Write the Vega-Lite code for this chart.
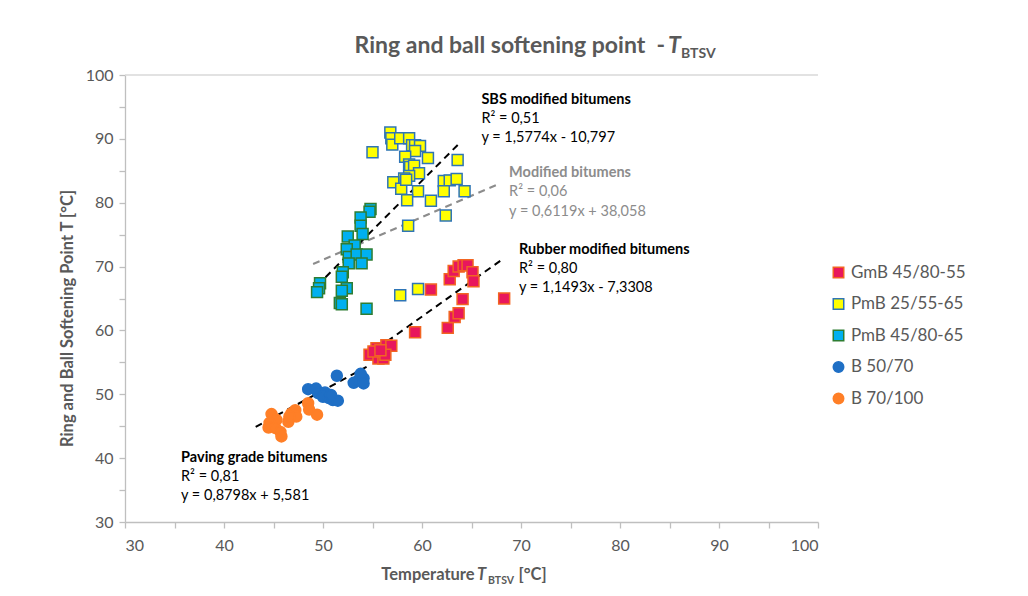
{
  "$schema": "https://vega.github.io/schema/vega-lite/v6.json",
  "width": 693,
  "height": 447,
  "autosize": "none",
  "padding": {"left": 125, "top": 75, "right": 210, "bottom": 74},
  "background": "white",
  "config": {
    "font": "Lato",
    "view": {"stroke": null},
    "axis": {
      "grid": false,
      "domainColor": "#BFBFBF",
      "tickColor": "#BFBFBF",
      "domainWidth": 1.3,
      "tickWidth": 1.3,
      "tickSize": 6,
      "labelColor": "#595959",
      "labelFont": "Lato",
      "labelFontSize": 16,
      "titleColor": "#595959",
      "titleFont": "Lato",
      "titleFontSize": 16.5,
      "titleFontWeight": "bold"
    },
    "legend": {
      "labelFont": "Lato",
      "labelFontSize": 17,
      "labelColor": "#595959",
      "symbolSize": 110,
      "symbolStrokeWidth": 1.5,
      "rowPadding": 13.5
    }
  },
  "datasets": {
    "points": [
      {"series": "PmB 25/55-65", "x": 56.8, "y": 91.0},
      {"series": "PmB 25/55-65", "x": 56.9, "y": 90.1},
      {"series": "PmB 25/55-65", "x": 57.0, "y": 89.1},
      {"series": "PmB 25/55-65", "x": 57.8, "y": 90.1},
      {"series": "PmB 25/55-65", "x": 58.7, "y": 90.1},
      {"series": "PmB 25/55-65", "x": 59.0, "y": 89.0},
      {"series": "PmB 25/55-65", "x": 59.3, "y": 89.0},
      {"series": "PmB 25/55-65", "x": 59.8, "y": 88.9},
      {"series": "PmB 25/55-65", "x": 59.3, "y": 88.1},
      {"series": "PmB 25/55-65", "x": 55.0, "y": 87.9},
      {"series": "PmB 25/55-65", "x": 58.3, "y": 87.2},
      {"series": "PmB 25/55-65", "x": 60.6, "y": 87.0},
      {"series": "PmB 25/55-65", "x": 63.6, "y": 86.7},
      {"series": "PmB 25/55-65", "x": 58.7, "y": 86.0},
      {"series": "PmB 25/55-65", "x": 58.8, "y": 85.6},
      {"series": "PmB 25/55-65", "x": 59.2, "y": 85.8},
      {"series": "PmB 25/55-65", "x": 59.7, "y": 84.6},
      {"series": "PmB 25/55-65", "x": 58.7, "y": 84.2},
      {"series": "PmB 25/55-65", "x": 58.2, "y": 83.8},
      {"series": "PmB 25/55-65", "x": 57.1, "y": 83.2},
      {"series": "PmB 25/55-65", "x": 57.9, "y": 82.2},
      {"series": "PmB 25/55-65", "x": 58.4, "y": 83.6},
      {"series": "PmB 25/55-65", "x": 59.6, "y": 81.8},
      {"series": "PmB 25/55-65", "x": 62.2, "y": 83.4},
      {"series": "PmB 25/55-65", "x": 62.8, "y": 83.5},
      {"series": "PmB 25/55-65", "x": 63.5, "y": 83.7},
      {"series": "PmB 25/55-65", "x": 62.2, "y": 81.8},
      {"series": "PmB 25/55-65", "x": 64.3, "y": 81.8},
      {"series": "PmB 25/55-65", "x": 60.9, "y": 80.3},
      {"series": "PmB 25/55-65", "x": 58.5, "y": 80.4},
      {"series": "PmB 25/55-65", "x": 62.4, "y": 78.0},
      {"series": "PmB 25/55-65", "x": 58.6, "y": 76.4},
      {"series": "PmB 25/55-65", "x": 57.8, "y": 65.5},
      {"series": "PmB 25/55-65", "x": 59.6, "y": 66.5},
      {"series": "PmB 45/80-65", "x": 54.8, "y": 79.0},
      {"series": "PmB 45/80-65", "x": 54.7, "y": 78.6},
      {"series": "PmB 45/80-65", "x": 53.8, "y": 77.7},
      {"series": "PmB 45/80-65", "x": 53.8, "y": 76.4},
      {"series": "PmB 45/80-65", "x": 54.0, "y": 75.1},
      {"series": "PmB 45/80-65", "x": 52.5, "y": 74.7},
      {"series": "PmB 45/80-65", "x": 53.2, "y": 73.3},
      {"series": "PmB 45/80-65", "x": 52.4, "y": 72.7},
      {"series": "PmB 45/80-65", "x": 52.6, "y": 71.5},
      {"series": "PmB 45/80-65", "x": 53.4, "y": 71.9},
      {"series": "PmB 45/80-65", "x": 54.4, "y": 71.9},
      {"series": "PmB 45/80-65", "x": 52.6, "y": 70.5},
      {"series": "PmB 45/80-65", "x": 53.9, "y": 70.5},
      {"series": "PmB 45/80-65", "x": 52.0, "y": 69.1},
      {"series": "PmB 45/80-65", "x": 51.9, "y": 68.4},
      {"series": "PmB 45/80-65", "x": 49.7, "y": 67.4},
      {"series": "PmB 45/80-65", "x": 49.6, "y": 66.6},
      {"series": "PmB 45/80-65", "x": 49.4, "y": 66.0},
      {"series": "PmB 45/80-65", "x": 52.4, "y": 66.6},
      {"series": "PmB 45/80-65", "x": 51.9, "y": 66.2},
      {"series": "PmB 45/80-65", "x": 51.7, "y": 64.3},
      {"series": "PmB 45/80-65", "x": 51.9, "y": 64.1},
      {"series": "PmB 45/80-65", "x": 54.4, "y": 63.4},
      {"series": "B 50/70", "x": 51.4, "y": 52.9},
      {"series": "B 50/70", "x": 48.5, "y": 50.8},
      {"series": "B 50/70", "x": 49.3, "y": 50.9},
      {"series": "B 50/70", "x": 49.5, "y": 50.2},
      {"series": "B 50/70", "x": 50.2, "y": 50.3},
      {"series": "B 50/70", "x": 50.0, "y": 49.6},
      {"series": "B 50/70", "x": 50.6, "y": 49.4},
      {"series": "B 50/70", "x": 51.0, "y": 49.1},
      {"series": "B 50/70", "x": 51.5, "y": 49.0},
      {"series": "B 50/70", "x": 50.8, "y": 49.9},
      {"series": "B 50/70", "x": 53.1, "y": 51.8},
      {"series": "B 50/70", "x": 53.6, "y": 52.2},
      {"series": "B 50/70", "x": 54.1, "y": 52.5},
      {"series": "B 50/70", "x": 53.8, "y": 53.2},
      {"series": "B 50/70", "x": 54.1, "y": 51.7},
      {"series": "B 70/100", "x": 44.8, "y": 46.9},
      {"series": "B 70/100", "x": 45.3, "y": 46.0},
      {"series": "B 70/100", "x": 44.6, "y": 45.5},
      {"series": "B 70/100", "x": 44.5, "y": 44.8},
      {"series": "B 70/100", "x": 45.2, "y": 44.7},
      {"series": "B 70/100", "x": 45.7, "y": 44.1},
      {"series": "B 70/100", "x": 45.8, "y": 43.4},
      {"series": "B 70/100", "x": 46.5, "y": 45.7},
      {"series": "B 70/100", "x": 46.8, "y": 47.0},
      {"series": "B 70/100", "x": 47.2, "y": 47.5},
      {"series": "B 70/100", "x": 47.3, "y": 46.5},
      {"series": "B 70/100", "x": 46.6, "y": 46.5},
      {"series": "B 70/100", "x": 48.5, "y": 48.6},
      {"series": "B 70/100", "x": 48.6, "y": 47.6},
      {"series": "B 70/100", "x": 49.4, "y": 46.8},
      {"series": "GmB 45/80-55", "x": 60.9, "y": 66.4},
      {"series": "GmB 45/80-55", "x": 59.3, "y": 59.7},
      {"series": "GmB 45/80-55", "x": 62.6, "y": 60.4},
      {"series": "GmB 45/80-55", "x": 63.3, "y": 62.1},
      {"series": "GmB 45/80-55", "x": 63.7, "y": 62.7},
      {"series": "GmB 45/80-55", "x": 64.1, "y": 64.9},
      {"series": "GmB 45/80-55", "x": 68.3, "y": 65.0},
      {"series": "GmB 45/80-55", "x": 62.8, "y": 68.0},
      {"series": "GmB 45/80-55", "x": 63.2, "y": 69.3},
      {"series": "GmB 45/80-55", "x": 63.7, "y": 70.0},
      {"series": "GmB 45/80-55", "x": 64.2, "y": 70.2},
      {"series": "GmB 45/80-55", "x": 64.6, "y": 70.2},
      {"series": "GmB 45/80-55", "x": 65.1, "y": 69.1},
      {"series": "GmB 45/80-55", "x": 65.2, "y": 67.7},
      {"series": "GmB 45/80-55", "x": 54.7, "y": 56.2},
      {"series": "GmB 45/80-55", "x": 55.4, "y": 57.2},
      {"series": "GmB 45/80-55", "x": 55.9, "y": 56.4},
      {"series": "GmB 45/80-55", "x": 56.4, "y": 57.7},
      {"series": "GmB 45/80-55", "x": 56.9, "y": 57.6},
      {"series": "GmB 45/80-55", "x": 55.6, "y": 55.6},
      {"series": "GmB 45/80-55", "x": 56.1, "y": 55.6},
      {"series": "GmB 45/80-55", "x": 55.1, "y": 56.7},
      {"series": "GmB 45/80-55", "x": 56.3, "y": 56.2},
      {"series": "GmB 45/80-55", "x": 55.8, "y": 56.9}
    ],
    "trends": [
      {"trend": "Paving grade bitumens", "kind": "black", "x": 43.2, "y": 44.9},
      {"trend": "Paving grade bitumens", "kind": "black", "x": 54.4, "y": 54.3},
      {"trend": "Rubber modified bitumens", "kind": "black", "x": 54.5, "y": 56.1},
      {"trend": "Rubber modified bitumens", "kind": "black", "x": 67.9, "y": 70.9},
      {"trend": "SBS modified bitumens", "kind": "black", "x": 49.4, "y": 67.0},
      {"trend": "SBS modified bitumens", "kind": "black", "x": 63.9, "y": 89.5},
      {"trend": "Modified bitumens", "kind": "grey", "x": 49.0, "y": 70.4},
      {"trend": "Modified bitumens", "kind": "grey", "x": 67.7, "y": 82.9}
    ],
    "frame": [
      {"x": 30, "x2": 100, "y": 100}
    ],
    "labels": [
      {"kind": "bold", "x": 66.0, "y": 96.1, "text": "SBS modified bitumens"},
      {"kind": "plain", "x": 66.0, "y": 93.1, "text": "R² = 0,51"},
      {"kind": "plain", "x": 66.0, "y": 90.1, "text": "y = 1,5774x - 10,797"},
      {"kind": "greybold", "x": 68.8, "y": 84.65, "text": "Modified bitumens"},
      {"kind": "grey", "x": 68.8, "y": 81.6, "text": "R² = 0,06"},
      {"kind": "grey", "x": 68.8, "y": 78.6, "text": "y = 0,6119x + 38,058"},
      {"kind": "bold", "x": 69.8, "y": 72.6, "text": "Rubber modified bitumens"},
      {"kind": "plain", "x": 69.8, "y": 69.6, "text": "R² = 0,80"},
      {"kind": "plain", "x": 69.8, "y": 66.6, "text": "y = 1,1493x - 7,3308"},
      {"kind": "bold", "x": 35.66, "y": 40.0, "text": "Paving grade bitumens"},
      {"kind": "plain", "x": 35.66, "y": 37.0, "text": "R² = 0,81"},
      {"kind": "plain", "x": 35.66, "y": 34.0, "text": "y = 0,8798x + 5,581"},
      {"kind": "title", "x": 84.55, "y": 103.44, "text": "Ring and ball softening point\u00a0 -"},
      {"kind": "titleT", "x": 84.85, "y": 103.44, "text": "T"},
      {"kind": "titleSub", "x": 86.16, "y": 102.66, "text": "BTSV"},
      {"kind": "axis", "x": 65.31, "y": 20.9, "text": "Temperature"},
      {"kind": "axisT", "x": 65.56, "y": 20.9, "text": "T"},
      {"kind": "axisSub", "x": 66.67, "y": 20.3, "text": "BTSV"},
      {"kind": "axisLeft", "x": 69.75, "y": 20.9, "text": "[°C]"}
    ]
  },
  "encoding": {
    "x": {
      "field": "x",
      "type": "quantitative",
      "scale": {"domain": [30, 100], "nice": false, "zero": false},
      "axis": {
        "title": null,
        "values": [30, 35, 40, 45, 50, 55, 60, 65, 70, 75, 80, 85, 90, 95, 100],
        "labelExpr": "datum.value % 10 == 0 ? datum.label : ''",
        "labelPadding": 9
      }
    },
    "y": {
      "field": "y",
      "type": "quantitative",
      "scale": {"domain": [30, 100], "nice": false, "zero": false},
      "axis": {
        "title": "Ring and Ball Softening Point T [°C]",
        "values": [30, 35, 40, 45, 50, 55, 60, 65, 70, 75, 80, 85, 90, 95, 100],
        "labelExpr": "datum.value % 10 == 0 ? datum.label : ''",
        "labelPadding": 6,
        "titlePadding": 10,
        "titleY": 243
      }
    }
  },
  "layer": [
    {
      "data": {"name": "frame"},
      "mark": {"type": "rule", "color": "#D9D9D9", "strokeWidth": 1.3},
      "encoding": {"x2": {"field": "x2"}}
    },
    {
      "data": {"name": "trends"},
      "transform": [{"filter": "datum.kind == 'grey'"}],
      "mark": {"type": "line", "color": "#8C8C8C", "strokeWidth": 2, "strokeDash": [7, 5]},
      "encoding": {"detail": {"field": "trend"}}
    },
    {
      "data": {"name": "trends"},
      "transform": [{"filter": "datum.kind == 'black'"}],
      "mark": {"type": "line", "color": "#000000", "strokeWidth": 2, "strokeDash": [7, 5]},
      "encoding": {"detail": {"field": "trend"}}
    },
    {
      "data": {"name": "points"},
      "mark": {"type": "point", "filled": true, "size": 120, "strokeWidth": 1.5, "opacity": 1},
      "encoding": {
        "shape": {
          "field": "series", "type": "nominal",
          "scale": {"domain": ["GmB 45/80-55", "PmB 25/55-65", "PmB 45/80-65", "B 50/70", "B 70/100"], "range": ["square", "square", "square", "circle", "circle"]},
          "legend": {"title": null, "orient": "none", "legendX": 705, "legendY": 189}
        },
        "fill": {
          "field": "series", "type": "nominal",
          "scale": {"domain": ["GmB 45/80-55", "PmB 25/55-65", "PmB 45/80-65", "B 50/70", "B 70/100"], "range": ["#E8175D", "#FFFF00", "#00B0F0", "#1F6FC5", "#FF7F27"]},
          "legend": {"title": null, "orient": "none", "legendX": 705, "legendY": 189}
        },
        "stroke": {
          "field": "series", "type": "nominal",
          "scale": {"domain": ["GmB 45/80-55", "PmB 25/55-65", "PmB 45/80-65", "B 50/70", "B 70/100"], "range": ["#F26522", "#2E75B6", "#2E7D32", "#1F6FC5", "#FF7F27"]},
          "legend": {"title": null, "orient": "none", "legendX": 705, "legendY": 189}
        }
      }
    },
    {
      "data": {"name": "labels"},
      "transform": [{"filter": "datum.kind == 'bold'"}],
      "mark": {"type": "text", "align": "left", "baseline": "middle", "fontSize": 14.5, "fontWeight": "bold", "color": "#000000"},
      "encoding": {"text": {"field": "text"}}
    },
    {
      "data": {"name": "labels"},
      "transform": [{"filter": "datum.kind == 'plain'"}],
      "mark": {"type": "text", "align": "left", "baseline": "middle", "fontSize": 14.5, "color": "#000000"},
      "encoding": {"text": {"field": "text"}}
    },
    {
      "data": {"name": "labels"},
      "transform": [{"filter": "datum.kind == 'greybold'"}],
      "mark": {"type": "text", "align": "left", "baseline": "middle", "fontSize": 14.5, "fontWeight": "bold", "color": "#8C8C8C"},
      "encoding": {"text": {"field": "text"}}
    },
    {
      "data": {"name": "labels"},
      "transform": [{"filter": "datum.kind == 'grey'"}],
      "mark": {"type": "text", "align": "left", "baseline": "middle", "fontSize": 14.5, "color": "#8C8C8C"},
      "encoding": {"text": {"field": "text"}}
    },
    {
      "data": {"name": "labels"},
      "transform": [{"filter": "datum.kind == 'title'"}],
      "mark": {"type": "text", "align": "right", "baseline": "alphabetic", "fontSize": 23, "fontWeight": "bold", "color": "#595959"},
      "encoding": {"text": {"field": "text"}}
    },
    {
      "data": {"name": "labels"},
      "transform": [{"filter": "datum.kind == 'titleT'"}],
      "mark": {"type": "text", "align": "left", "baseline": "alphabetic", "fontSize": 23, "fontWeight": "bold", "fontStyle": "italic", "color": "#595959"},
      "encoding": {"text": {"field": "text"}}
    },
    {
      "data": {"name": "labels"},
      "transform": [{"filter": "datum.kind == 'titleSub'"}],
      "mark": {"type": "text", "align": "left", "baseline": "alphabetic", "fontSize": 14, "fontWeight": "bold", "color": "#595959"},
      "encoding": {"text": {"field": "text"}}
    },
    {
      "data": {"name": "labels"},
      "transform": [{"filter": "datum.kind == 'axis'"}],
      "mark": {"type": "text", "align": "right", "baseline": "alphabetic", "fontSize": 16.5, "fontWeight": "bold", "color": "#595959"},
      "encoding": {"text": {"field": "text"}}
    },
    {
      "data": {"name": "labels"},
      "transform": [{"filter": "datum.kind == 'axisT'"}],
      "mark": {"type": "text", "align": "left", "baseline": "alphabetic", "fontSize": 16.5, "fontWeight": "bold", "fontStyle": "italic", "color": "#595959"},
      "encoding": {"text": {"field": "text"}}
    },
    {
      "data": {"name": "labels"},
      "transform": [{"filter": "datum.kind == 'axisSub'"}],
      "mark": {"type": "text", "align": "left", "baseline": "alphabetic", "fontSize": 10.5, "fontWeight": "bold", "color": "#595959"},
      "encoding": {"text": {"field": "text"}}
    },
    {
      "data": {"name": "labels"},
      "transform": [{"filter": "datum.kind == 'axisLeft'"}],
      "mark": {"type": "text", "align": "left", "baseline": "alphabetic", "fontSize": 16.5, "fontWeight": "bold", "color": "#595959"},
      "encoding": {"text": {"field": "text"}}
    }
  ]
}
